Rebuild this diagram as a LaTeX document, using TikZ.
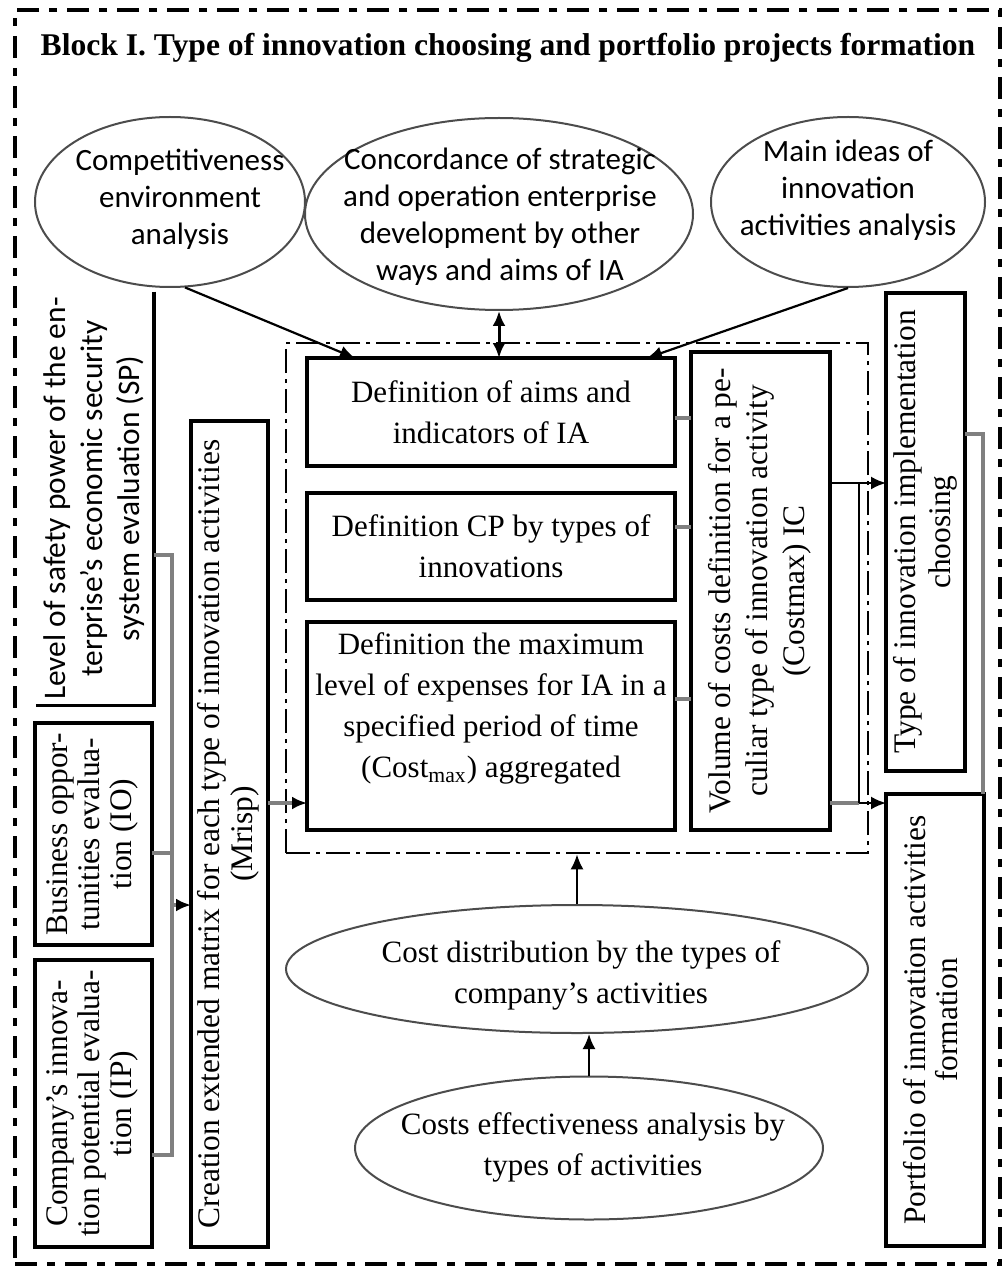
\documentclass[tikz,border=0pt]{standalone}
\usepackage{fontspec}
\usepackage{graphicx}
\setmainfont{Liberation Serif}
\newfontfamily\calfont{Carlito}
\usetikzlibrary{shapes.geometric,calc,arrows.meta}

\definecolor{connline}{gray}{0.5}
\definecolor{ovalline}{gray}{0.3}

% rotated multi-line label, optional leading
\newcommand{\vtext}[2][18]{\rotatebox{90}{\fontsize{15.7}{#1}\selectfont\begin{tabular}{@{}c@{}}#2\end{tabular}}}

\begin{document}
\begin{tikzpicture}[x=0.5pt,y=-0.5pt,
		box/.style={draw, line width=1.7pt, inner sep=0pt, outer sep=0pt, align=center},
		oval/.style={ellipse, draw=ovalline, line width=1pt, inner sep=0pt},
		ovaltext/.style={align=center, font=\calfont\fontsize{15.5}{18.5}\selectfont},
		boxtext/.style={font=\fontsize{15.5}{20.5}\selectfont},
		gline/.style={draw=connline, line width=1.6pt},
		garrow/.style={gline, -{Latex[length=7.5pt,width=6.5pt,color=black]}},
		barrow/.style={line width=1.1pt, -{Latex[length=7.5pt,width=6.5pt]}}]
			\useasboundingbox (0,0) rectangle (1002,1267);

			% block frame and heading
			\node[draw, line width=2pt, dash pattern=on 11pt off 5pt on 4pt off 5pt, minimum width=492.5pt, minimum height=627pt, inner sep=0pt] (block) at (507.5,637) {};
			\node[font=\bfseries\fontsize{15.8}{18}\selectfont] (title) at (508,48) {Block I. Type of innovation choosing and portfolio projects formation};

			% analyses on top
			\node[oval, minimum width=135pt, minimum height=85pt] (comp) at (170,202) {};
			\node[ovaltext] (comptxt) at (180,199) {Competitiveness\\environment\\analysis};
			\node[oval, minimum width=194pt, minimum height=96pt] (conc) at (499,214) {};
			\node[ovaltext] (conctxt) at (500,217) {Concordance of strategic\\and operation enterprise\\development by other\\ways and aims of IA};
			\node[oval, minimum width=137pt, minimum height=85pt] (ideas) at (848,202) {};
			\node[ovaltext] (ideastxt) at (848,190) {Main ideas of\\innovation\\activities analysis};

			% evaluations on the left
			\node[inner sep=0pt, minimum width=58.5pt, minimum height=206.5pt, font=\calfont] (sp) at (95,498.5) {\vtext[18.5]{Level of safety power of the en-\\terprise’s economic security\\system evaluation (SP)}};
			\draw[line width=1.7pt] (sp.north east) -- (sp.south east) -- (sp.south west);
			\node[box, minimum width=58.5pt, minimum height=111pt] (io) at (93.5,834) {\vtext[16]{Business oppor-\\tunities evalua-\\tion (IO)}};
			\node[box, minimum width=58.5pt, minimum height=143.5pt] (ip) at (93.5,1103.5) {\vtext[16]{Company’s innova-\\tion potential evalua-\\tion (IP)}};
			\node[box, minimum width=38.5pt, minimum height=413pt] (mx) at (229.5,834) {\vtext[16.5]{Creation extended matrix for each type of innovation activities\\(Mrisp)}};

			% definitions
			\node[draw, line width=1.3pt, dash pattern=on 12pt off 3pt on 2pt off 3pt, minimum width=291pt, minimum height=255pt, inner sep=0pt] (frame) at (577,598) {};
			\node[box, boxtext, minimum width=184pt, minimum height=54pt] (aims) at (491,412) {Definition of aims and\\indicators of IA};
			\node[box, boxtext, minimum width=184pt, minimum height=53.5pt] (cp) at (491,546.5) {Definition CP by types of\\innovations};
			\node[box, boxtext, minimum width=184pt, minimum height=104pt] (cmax) at (491,726) {Definition the maximum\\level of expenses for IA in a\\specified period of time\\(Cost\textsubscript{max}) aggregated\\ \mbox{}};
			\node[box, minimum width=69.5pt, minimum height=239pt] (vol) at (760.5,591) {\vtext[18.5]{Volume of costs definition for a pe-\\culiar type of innovation activity\\(Costmax) IC}};

			% results on the right
			\node[box, minimum width=39.5pt, minimum height=239pt] (type) at (925.5,532) {\vtext[17.5]{Type of innovation implementation\\choosing}};
			\node[box, minimum width=49pt, minimum height=226pt] (port) at (935,1020) {\vtext[15.5]{Portfolio of innovation activities\\formation}};

			% costs at the bottom
			\node[oval, minimum width=291pt, minimum height=64pt] (dist) at (577,969) {};
			\node[boxtext, align=center] (disttxt) at (581,975) {Cost distribution by the types of\\company’s activities};
			\node[oval, minimum width=234pt, minimum height=71.5pt] (eff) at (589,1148) {};
			\node[boxtext, align=center] (efftxt) at (593,1147) {Costs effectiveness analysis by\\types of activities};

			% top arrows
			\draw[barrow] (comp.-80) -- ($(aims.north west)!0.13!(aims.north east)$);
			\draw[line width=1.5pt, {Latex[length=7.5pt,width=6.5pt]}-{Latex[length=7.5pt,width=6.5pt]}] (conc.south) -- (conc.south |- aims.north);
			\draw[barrow] (ideas.south) -- ($(aims.north west)!0.924!(aims.north east)$);

			% left bus
			\coordinate (lvSP) at (172,555);
			\coordinate (lvIO) at (172,853);
			\coordinate (lvMX) at (172,905);
			\coordinate (lvIP) at (172,1155);
			\draw[gline] (sp.east |- lvSP) -- (lvSP) -- (lvIP) -- (ip.east |- lvIP);
			\draw[gline] (io.east |- lvIO) -- (lvIO);
			\draw[garrow] (lvMX) -- (mx.west |- lvMX);
			\coordinate (lvC) at (0,803);
			\draw[garrow] (mx.east |- lvC) -- (cmax.west |- lvC);

			% into the volume box
			\coordinate (lvA) at (0,418);
			\coordinate (lvB) at (0,527);
			\coordinate (lvD) at (0,699);
			\draw[gline] (aims.east |- lvA) -- (vol.west |- lvA);
			\draw[gline] (cp.east |- lvB) -- (vol.west |- lvB);
			\draw[gline] (cmax.east |- lvD) -- (vol.west |- lvD);

			% out to the results
			\coordinate (split) at (859,483);
			\coordinate (lvP) at (859,803);
			\draw[barrow] (vol.east |- split) -- (type.west |- split);
			\draw[gline] (vol.east |- lvP) -- (lvP);
			\draw[line width=1.3pt] (split) -- (lvP);
			\draw[barrow] (lvP) -- (port.west |- lvP);
			\coordinate (lvT) at (983,434);
			\draw[gline] (type.east |- lvT) -- (lvT) -- (lvT |- port.north);

			% bottom arrows
			\draw[barrow] (dist.north) -- (dist.north |- frame.south);
			\draw[barrow] (eff.north) -- (eff.north |- dist.south);

		\end{tikzpicture}
\end{document}
